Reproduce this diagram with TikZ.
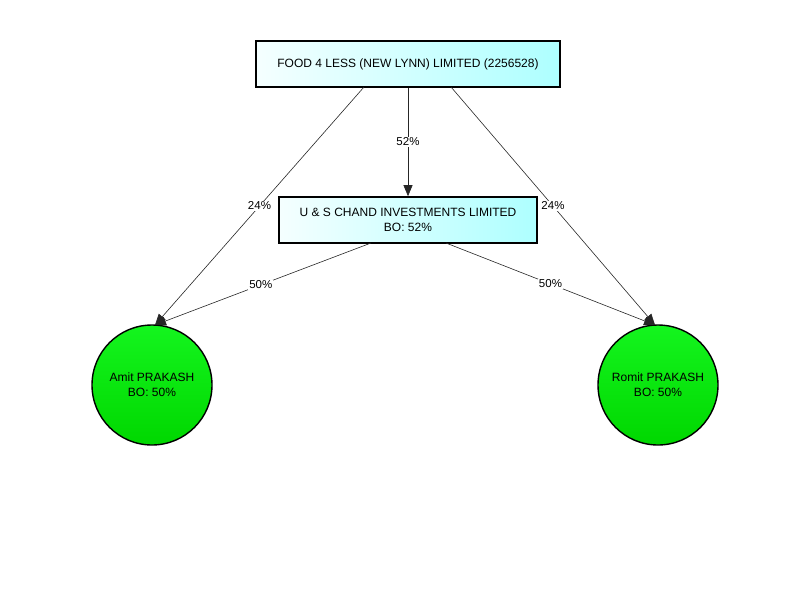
\documentclass[tikz,border=0pt]{standalone}
\usepackage{fontspec}
\setmainfont{Liberation Sans}
\usetikzlibrary{arrows.meta}
\begin{document}
\begin{tikzpicture}[x=1pt,y=-1pt,
  company/.style={draw=black,line width=1.6pt,rectangle,minimum height=46pt,inner sep=0pt,
    left color=cyan!4!white,right color=cyan!32!white,font=\fontsize{12}{15}\selectfont,align=center},
  person/.style={draw=black,line width=1.4pt,circle,minimum size=120pt,inner sep=0pt,
    top color={rgb,255:red,20;green,245;blue,30},bottom color={rgb,255:red,0;green,215;blue,0},
    font=\fontsize{12}{15}\selectfont,align=center},
  edge/.style={draw=black!85,line width=0.6pt,-{Triangle[length=11pt,width=9pt]}},
  elabel/.style={fill=white,inner sep=1pt,font=\fontsize{11.5}{13}\selectfont}]
\useasboundingbox (0,0) rectangle (800,600);
\node[company,minimum width=304pt] (food) at (408,64) {FOOD 4 LESS (NEW LYNN) LIMITED (2256528)};
\node[company,minimum width=258pt] (us) at (408,220) {U \& S CHAND INVESTMENTS LIMITED\\BO: 52\%};
\node[person] (amit) at (152,385) {Amit PRAKASH\\BO: 50\%};
\node[person] (romit) at (658,385) {Romit PRAKASH\\BO: 50\%};
\coordinate (fl) at (364,87);
\coordinate (fr) at (451,87);
\coordinate (ul) at (371,243);
\coordinate (ur) at (446,243);
\coordinate (at) at (155,325);
\coordinate (rt) at (655,325);
\draw[edge] (fl) -- node[elabel,pos=0.5]{24\%} (at);
\draw[edge] (fr) -- node[elabel,pos=0.5]{24\%} (rt);
\draw[edge] (food.south) -- node[elabel,pos=0.5]{52\%} (us.north);
\draw[edge] (ul) -- node[elabel,pos=0.51]{50\%} (at);
\draw[edge] (ur) -- node[elabel,pos=0.5]{50\%} (rt);
\end{tikzpicture}
\end{document}
